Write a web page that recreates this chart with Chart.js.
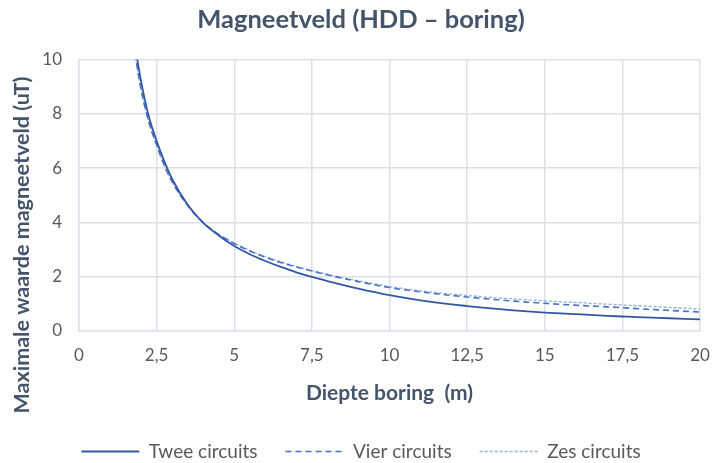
<!DOCTYPE html>
<html>
<head>
<meta charset="utf-8">
<script src="https://cdn.jsdelivr.net/npm/chart.js@4"></script>
<style>
  html, body { margin: 0; padding: 0; background: #fff; }
  #wrap { width: 714px; height: 463px; }
</style>
</head>
<body>
<div id="wrap"><canvas id="chart" width="714" height="463"></canvas></div>
<script>
// depth of the bore (m)
const depths = [1.75, 2, 2.25, 2.5, 2.75, 3, 3.5, 4, 4.5, 5, 5.5, 6, 6.5, 7, 7.5, 8, 9, 10, 11, 12, 12.5, 13, 14, 15, 16, 17, 17.5, 18, 19, 20];

// max magnetic field (uT) per configuration
const twee = [10.9, 9.2, 7.9, 7.0, 6.25, 5.6, 4.65, 3.98, 3.52, 3.13, 2.83, 2.58, 2.36, 2.16, 1.99, 1.84, 1.56, 1.32, 1.13, 0.98, 0.92, 0.86, 0.76, 0.68, 0.62, 0.56, 0.535, 0.51, 0.47, 0.43];
const vier = [10.6, 8.9, 7.7, 6.85, 6.1, 5.5, 4.62, 4.0, 3.56, 3.22, 2.95, 2.72, 2.52, 2.36, 2.21, 2.07, 1.82, 1.6, 1.44, 1.31, 1.25, 1.2, 1.1, 1.02, 0.95, 0.89, 0.86, 0.82, 0.76, 0.7];
const zes = [10.6, 8.9, 7.7, 6.85, 6.1, 5.5, 4.62, 4.0, 3.56, 3.24, 2.97, 2.74, 2.55, 2.38, 2.23, 2.09, 1.85, 1.64, 1.48, 1.36, 1.31, 1.26, 1.18, 1.11, 1.05, 0.99, 0.96, 0.93, 0.87, 0.81];

const seriesNames = ['Twee circuits', 'Vier circuits', 'Zes circuits'];
const yTitle = 'Maximale waarde magneetveld (uT)';

const gridColor = '#DCE0E8';
const tickColor = '#595959';
const titleColor = '#44546A';
const fontFamily = 'Lato, "Open Sans", sans-serif';

function toPoints(values) {
    return depths.map((d, i) => ({ x: d, y: values[i] }));
}

const comma = v => String(v).replace('.', ',');

// y axis title sits a bit lower than the plot centre in the original
const yTitlePlugin = {
    id: 'yTitle',
    afterDraw(chart) {
        const ctx = chart.ctx;
        ctx.save();
        ctx.translate(22, 245);
        ctx.rotate(-Math.PI / 2);
        ctx.font = 'bold 21.5px ' + fontFamily;
        ctx.fillStyle = titleColor;
        ctx.textAlign = 'center';
        ctx.textBaseline = 'middle';
        ctx.fillText(yTitle, 0, 0);
        ctx.restore();
    }
};

new Chart(document.getElementById('chart'), {
    type: 'line',
    data: {
        datasets: [
            {
                label: seriesNames[0],
                data: toPoints(twee),
                borderColor: '#3457A5',
                backgroundColor: 'transparent',
                borderWidth: 1.8,
                pointRadius: 0,
                cubicInterpolationMode: 'monotone'
            },
            {
                label: seriesNames[1],
                data: toPoints(vier),
                borderColor: '#4472C4',
                backgroundColor: 'transparent',
                borderWidth: 1.6,
                borderDash: [6, 4],
                pointRadius: 0,
                cubicInterpolationMode: 'monotone'
            },
            {
                label: seriesNames[2],
                data: toPoints(zes),
                borderColor: '#9AB0DC',
                backgroundColor: 'transparent',
                borderWidth: 1.4,
                borderDash: [3, 2],
                pointRadius: 0,
                cubicInterpolationMode: 'monotone'
            }
        ]
    },
    plugins: [yTitlePlugin],
    options: {
        responsive: false,
        animation: false,
        layout: { padding: { left: 8, right: 0, top: 0, bottom: 0 } },
        plugins: {
            title: {
                display: true,
                text: 'Magneetveld (HDD – boring)',
                color: titleColor,
                font: { family: fontFamily, size: 25.5, weight: 'bold' },
                padding: { top: 4, bottom: 25 }
            },
            legend: {
                position: 'bottom',
                maxHeight: 49,
                labels: {
                    color: tickColor,
                    font: { family: fontFamily, size: 19 },
                    usePointStyle: true,
                    pointStyle: 'line',
                    pointStyleWidth: 58,
                    boxHeight: 19,
                    padding: 28,
                    // point style hides the line dash, so copy it from the datasets
                    generateLabels: chart => {
                        const items = Chart.defaults.plugins.legend.labels.generateLabels(chart);
                        items.forEach(item => {
                            const ds = chart.data.datasets[item.datasetIndex];
                            item.lineDash = ds.borderDash || [];
                            item.lineWidth = ds.borderWidth;
                            item.strokeStyle = ds.borderColor;
                        });
                        return items;
                    }
                }
            },
            tooltip: { enabled: false }
        },
        scales: {
            x: {
                type: 'linear',
                min: 0,
                max: 20,
                afterFit: scale => {
                    scale.height = 83;
                    scale.paddingLeft = 0;
                    scale.paddingRight = 14;
                },
                ticks: {
                    stepSize: 2.5,
                    color: tickColor,
                    font: { family: fontFamily, size: 17 },
                    padding: 14,
                    callback: v => comma(v)
                },
                grid: { color: gridColor, lineWidth: 1.5, drawTicks: false },
                border: { color: gridColor, width: 1.5 },
                title: {
                    display: true,
                    text: 'Diepte boring  (m)',
                    color: titleColor,
                    font: { family: fontFamily, size: 21, weight: 'bold' },
                    padding: { top: 15, bottom: 8 }
                }
            },
            y: {
                min: 0,
                max: 10,
                afterFit: scale => { scale.width = 71; },
                ticks: {
                    stepSize: 2,
                    color: tickColor,
                    font: { family: fontFamily, size: 17 },
                    padding: 17,
                    callback: v => comma(v)
                },
                grid: { color: gridColor, lineWidth: 1.5, drawTicks: false },
                border: { color: gridColor, width: 1.5 },
                title: { display: false }
            }
        }
    }
});
</script>
</body>
</html>
